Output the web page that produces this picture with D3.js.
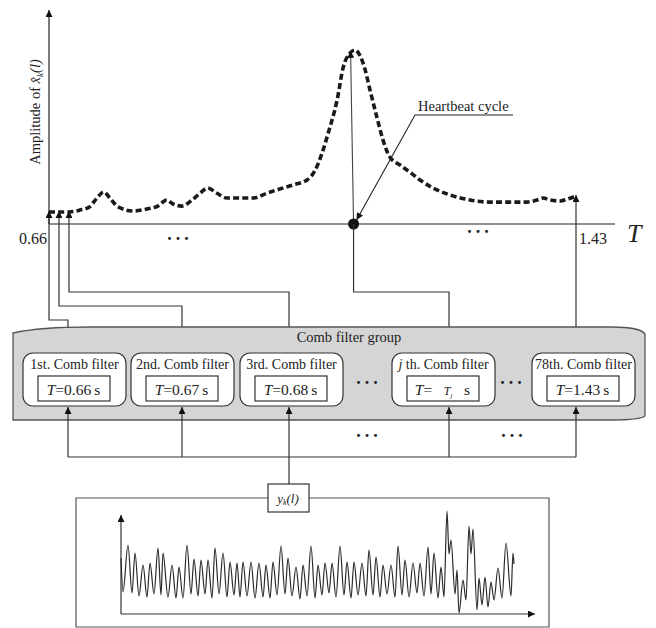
<!DOCTYPE html>
<html lang="en">
<head>
<meta charset="UTF-8">
<title>Comb filter group</title>
<script src="https://cdn.jsdelivr.net/npm/d3@7"></script>
<style>
  body { margin: 0; background: #fff; }
  text { font-family: "Liberation Serif", "DejaVu Serif", serif; fill: #222; }
</style>
</head>
<body>
<div id="chart"></div>
<script>
// ---- data ----
// comb filter output amplitude vs period T
const curveT = [0.660, 0.675, 0.689, 0.705, 0.719, 0.730, 0.740, 0.749, 0.761, 0.783, 0.803, 0.819, 0.832, 0.841,
  0.854, 0.869, 0.881, 0.892, 0.905, 0.920, 0.939, 0.958, 0.979, 0.997, 1.016, 1.037, 1.049, 1.059, 1.068,
  1.081, 1.090, 1.100, 1.107, 1.114, 1.122, 1.129, 1.139, 1.148, 1.158, 1.173, 1.187, 1.202, 1.221, 1.246,
  1.275, 1.304, 1.334, 1.358, 1.373, 1.382, 1.392, 1.407, 1.418, 1.430]
const curveAmp = [0.069, 0.069, 0.069, 0.080, 0.098, 0.149, 0.184, 0.149, 0.098, 0.075, 0.086, 0.103, 0.138, 0.115,
  0.103, 0.138, 0.178, 0.207, 0.178, 0.149, 0.149, 0.149, 0.178, 0.201, 0.224, 0.253, 0.310, 0.408, 0.523,
  0.713, 0.902, 0.983, 1.000, 0.971, 0.885, 0.770, 0.615, 0.483, 0.385, 0.339, 0.299, 0.253, 0.207, 0.167,
  0.138, 0.126, 0.126, 0.126, 0.138, 0.149, 0.138, 0.132, 0.144, 0.161]
const axisTicks = [0.66, 1.43]
const heartbeatT = 1.105
// where the connector arrows hit the curve (schematic spacing of the first three)
const tapT = [0.66, 0.6746, 0.6892]

const filterNames = ["1st. Comb filter", "2nd. Comb filter", "3rd. Comb filter", "j th. Comb filter", "78th. Comb filter"]
const filterPeriods = ["0.66", "0.67", "0.68", "Tj", "1.43"]

// input signal y_k(l): sample index and amplitude
const signalT = [0, 2, 7, 11, 14, 18, 22, 26, 29, 33, 37, 40, 42, 47, 51, 55, 58, 62, 66, 70, 73, 77, 80, 84, 87, 91,
  94, 98, 102, 106, 109, 113, 116, 119, 122, 126, 130, 134, 138, 142, 145, 149, 152, 156, 160, 164, 167, 171,
  175, 179, 182, 186, 190, 194, 197, 201, 204, 208, 211, 215, 219, 223, 226, 230, 233, 237, 241, 245, 248,
  252, 255, 259, 262, 266, 270, 274, 277, 281, 284, 288, 292, 296, 299, 303, 307, 310, 313, 317, 320, 323,
  326, 328, 330, 334, 336, 338, 342, 345, 348, 350, 352, 356, 358, 361, 364, 367, 370, 373, 377, 381, 385,
  390, 392, 393]
const signalV = [56, 22, 69, 21, 61, 18, 49, 17, 51, 20, 66, 19, 61, 17, 49, 16, 47, 16, 69, 20, 55, 18, 54, 20, 54, 16,
  66, 20, 61, 17, 52, 19, 51, 17, 52, 18, 52, 16, 51, 17, 49, 16, 52, 19, 68, 20, 56, 18,
  47, 15, 49, 18, 68, 16, 49, 19, 51, 21, 51, 17, 68, 19, 52, 16, 52, 19, 51, 18, 64,
  19, 57, 17, 49, 20, 49, 17, 68, 19, 54, 17, 51, 21, 51, 18, 67, 20, 61, 16, 47, 17,
  103, 60, 74, 20, 44, 1, 34, 14, 88, 60, 85, 4, 36, 9, 37, 7, 32, 14, 46, 16, 71,
  18, 61, 50]

// ---- layout ----
const W = 656, H = 628
const boxX = [23, 131, 240, 392, 532], boxW = 103, boxY = 353, boxH = 53
const portX = [68, 182, 289, 449, 576]
const elbowY = [320, 306, 292, 292]
const busY = 457

const svg = d3.select("#chart").append("svg")
  .attr("width", W)
  .attr("height", H)

svg.append("defs").append("marker")
  .attr("id", "arr")
  .attr("viewBox", "0 0 10 10")
  .attr("refX", 10).attr("refY", 5)
  .attr("markerUnits", "userSpaceOnUse")
  .attr("markerWidth", 8).attr("markerHeight", 7)
  .attr("orient", "auto")
  .append("path")
  .attr("d", "M0,0 L10,5 L0,10 z")
  .attr("fill", "#111")

// ---- top chart ----
const x = d3.scaleLinear().domain([0.66, 1.43]).range([49, 576])
const y = d3.scaleLinear().domain([0, 1]).range([224, 50])
const ampAt = t => {
  const i = d3.bisectLeft(curveT, t)
  if (i <= 0) return curveAmp[0]
  if (i >= curveT.length) return curveAmp[curveAmp.length - 1]
  const f = (t - curveT[i - 1]) / (curveT[i] - curveT[i - 1])
  return curveAmp[i - 1] + f * (curveAmp[i] - curveAmp[i - 1])
}

// axes
svg.append("line")
  .attr("x1", x(0.66)).attr("x2", 615)
  .attr("y1", y(0)).attr("y2", y(0))
  .attr("stroke", "#222").attr("stroke-width", 1.2)
svg.append("line")
  .attr("x1", x(0.66)).attr("x2", x(0.66))
  .attr("y1", y(0)).attr("y2", 10)
  .attr("stroke", "#222").attr("stroke-width", 1.2)
  .attr("marker-end", "url(#arr)")

svg.selectAll(".tick-lab")
  .data(axisTicks)
  .enter().append("text")
  .attr("class", "tick-lab")
  .attr("x", (d, i) => i == 0 ? x(d) - 2 : x(d) + 3)
  .attr("y", 244)
  .attr("text-anchor", (d, i) => i == 0 ? "end" : "start")
  .attr("font-size", 16)
  .text(d => d3.format(".2f")(d))

svg.append("text")
  .attr("x", 627).attr("y", 242)
  .attr("font-size", 26).attr("font-style", "italic")
  .text("T")

const ylab = svg.append("text")
  .attr("transform", "translate(40,112) rotate(-90)")
  .attr("text-anchor", "middle")
  .attr("font-size", 14.5)
ylab.append("tspan").text("Amplitude of ")
ylab.append("tspan").attr("font-style", "italic").text("x\u0302")
ylab.append("tspan").attr("font-size", 9).attr("dy", 3).attr("font-style", "italic").text("k")
ylab.append("tspan").attr("dy", -3).attr("font-style", "italic").text("(l)")

// dashed amplitude curve
const curveData = curveT.map((t, i) => ({ t: t, a: curveAmp[i] }))
svg.append("path")
  .datum(curveData)
  .attr("d", d3.line().x(d => x(d.t)).y(d => y(d.a)).curve(d3.curveMonotoneX))
  .attr("fill", "none")
  .attr("stroke", "#1a1a1a")
  .attr("stroke-width", 3.6)
  .attr("stroke-dasharray", "6,3.2")

// heartbeat marker
svg.append("line")
  .attr("x1", x(heartbeatT)).attr("x2", x(heartbeatT) - 3)
  .attr("y1", y(0)).attr("y2", y(ampAt(heartbeatT)))
  .attr("stroke", "#444").attr("stroke-width", 1.1)
  .attr("marker-end", "url(#arr)")
svg.append("circle")
  .attr("cx", x(heartbeatT)).attr("cy", y(0))
  .attr("r", 5.5).attr("fill", "#111")

svg.append("text")
  .attr("x", 418).attr("y", 111)
  .attr("font-size", 14.5)
  .text("Heartbeat cycle")
svg.append("path")
  .attr("d", `M513,115 L415,115 L${x(heartbeatT) + 3},${y(0) - 4}`)
  .attr("fill", "none").attr("stroke", "#222").attr("stroke-width", 1.1)
  .attr("marker-end", "url(#arr)")

// ---- connectors from the filters up to the curve ----
const conn = svg.append("g")
  .attr("fill", "none").attr("stroke", "#333").attr("stroke-width", 1.2)
tapT.forEach((t, i) => {
  conn.append("path")
    .attr("d", `M${portX[i]},${boxY} V${elbowY[i]} H${x(t)} V${y(ampAt(t)) - 1}`)
    .attr("marker-end", "url(#arr)")
})
conn.append("path")
  .attr("d", `M${portX[3]},${boxY} V${elbowY[3]} H${x(heartbeatT)} V${y(0)}`)
conn.append("line")
  .attr("x1", portX[4]).attr("x2", x(1.43))
  .attr("y1", boxY).attr("y2", y(ampAt(1.43)) - 1)
  .attr("marker-end", "url(#arr)")

// ---- comb filter group ----
svg.append("path")
  .attr("d", "M13,333 Q40,327 90,327 L612,327 Q640,327 645,334 L645,416 Q640,420 612,420 L13,420 Z")
  .attr("fill", "#d5d5d5")
  .attr("stroke", "#555").attr("stroke-width", 1.3)

svg.append("text")
  .attr("x", 349).attr("y", 342)
  .attr("text-anchor", "middle")
  .attr("font-size", 14.5)
  .text("Comb filter group")

const box = svg.selectAll(".box")
  .data(filterNames)
  .enter().append("g")
  .attr("class", "box")
  .attr("transform", (d, i) => `translate(${boxX[i]},${boxY})`)

box.append("rect")
  .attr("width", boxW).attr("height", boxH)
  .attr("rx", 10)
  .attr("fill", "#fff").attr("stroke", "#333").attr("stroke-width", 1.2)

box.append("text")
  .attr("x", boxW / 2).attr("y", 16)
  .attr("text-anchor", "middle")
  .attr("font-size", 14)
  .each(function (d) {
    const t = d3.select(this)
    if (d.startsWith("j")) {
      t.append("tspan").attr("font-style", "italic").text("j")
      t.append("tspan").text(d.slice(1))
    } else {
      t.text(d)
    }
  })

box.append("rect")
  .attr("x", 15).attr("y", 23)
  .attr("width", 72).attr("height", 25)
  .attr("fill", "#fff").attr("stroke", "#333").attr("stroke-width", 1.2)

box.append("text")
  .attr("x", boxW / 2 - 1).attr("y", 42)
  .attr("text-anchor", "middle")
  .attr("font-size", 15.5)
  .each(function (d, i) {
    const t = d3.select(this)
    const p = filterPeriods[i]
    t.append("tspan").attr("font-style", "italic").text("T")
    if (p == "Tj") {
      t.append("tspan").text("=\u2002 ")
      t.append("tspan").attr("font-style", "italic").attr("font-size", 12).text("T")
      t.append("tspan").attr("font-style", "italic").attr("font-size", 7).attr("dy", 3).text("j")
      t.append("tspan").attr("dy", -3).text("\u2002 s")
    } else {
      t.append("tspan").text("=" + p + "\u2009s")
    }
  })

// ellipses (drawn after the group so they sit on top of it)
const dots = [[180, 240], [480, 233], [369, 384], [513, 384], [369, 437], [514, 437]]
svg.selectAll(".ell")
  .data(dots)
  .enter().append("text")
  .attr("class", "ell")
  .attr("x", d => d[0]).attr("y", d => d[1])
  .attr("text-anchor", "middle")
  .attr("font-size", 18).attr("font-weight", "bold")
  .attr("letter-spacing", 4)
  .text("...")

// ---- bus from the input signal ----
const bus = svg.append("g")
  .attr("fill", "none").attr("stroke", "#333").attr("stroke-width", 1.2)
bus.append("line")
  .attr("x1", portX[0]).attr("x2", portX[4])
  .attr("y1", busY).attr("y2", busY)
portX.forEach(px => {
  bus.append("line")
    .attr("x1", px).attr("x2", px)
    .attr("y1", busY).attr("y2", boxY + boxH + 1)
    .attr("marker-end", "url(#arr)")
})
bus.append("line")
  .attr("x1", portX[2]).attr("x2", portX[2])
  .attr("y1", 484).attr("y2", busY)

// signal panel
svg.append("path")
  .attr("d", "M268,498 H76 V627 H549 V498 H309")
  .attr("fill", "none").attr("stroke", "#555").attr("stroke-width", 1.2)

svg.append("rect")
  .attr("x", 268).attr("y", 484)
  .attr("width", 41).attr("height", 28)
  .attr("fill", "#fff").attr("stroke", "#333").attr("stroke-width", 1.2)
const yk = svg.append("text")
  .attr("x", 288).attr("y", 503)
  .attr("text-anchor", "middle")
  .attr("font-size", 13).attr("font-style", "italic")
yk.append("tspan").text("y")
yk.append("tspan").attr("font-size", 8).attr("dy", 2).text("k")
yk.append("tspan").attr("dy", -2).text("(l)")

const sx = d3.scaleLinear().domain([0, 414]).range([121, 535])
const sy = d3.scaleLinear().domain([0, 100]).range([614, 514])

svg.append("line")
  .attr("x1", sx(0)).attr("x2", sx(0))
  .attr("y1", sy(0)).attr("y2", sy(99))
  .attr("stroke", "#333").attr("stroke-width", 1.2)
  .attr("marker-end", "url(#arr)")
svg.append("line")
  .attr("x1", sx(0)).attr("x2", sx(414))
  .attr("y1", sy(0)).attr("y2", sy(0))
  .attr("stroke", "#333").attr("stroke-width", 1.2)
  .attr("marker-end", "url(#arr)")

const sigData = signalT.map((t, i) => ({ t: t, v: signalV[i] }))
svg.append("path")
  .datum(sigData)
  .attr("d", d3.line().x(d => sx(d.t)).y(d => sy(d.v)).curve(d3.curveMonotoneX))
  .attr("fill", "none")
  .attr("stroke", "#2a2a2a")
  .attr("stroke-width", 1.2)
</script>
</body>
</html>
